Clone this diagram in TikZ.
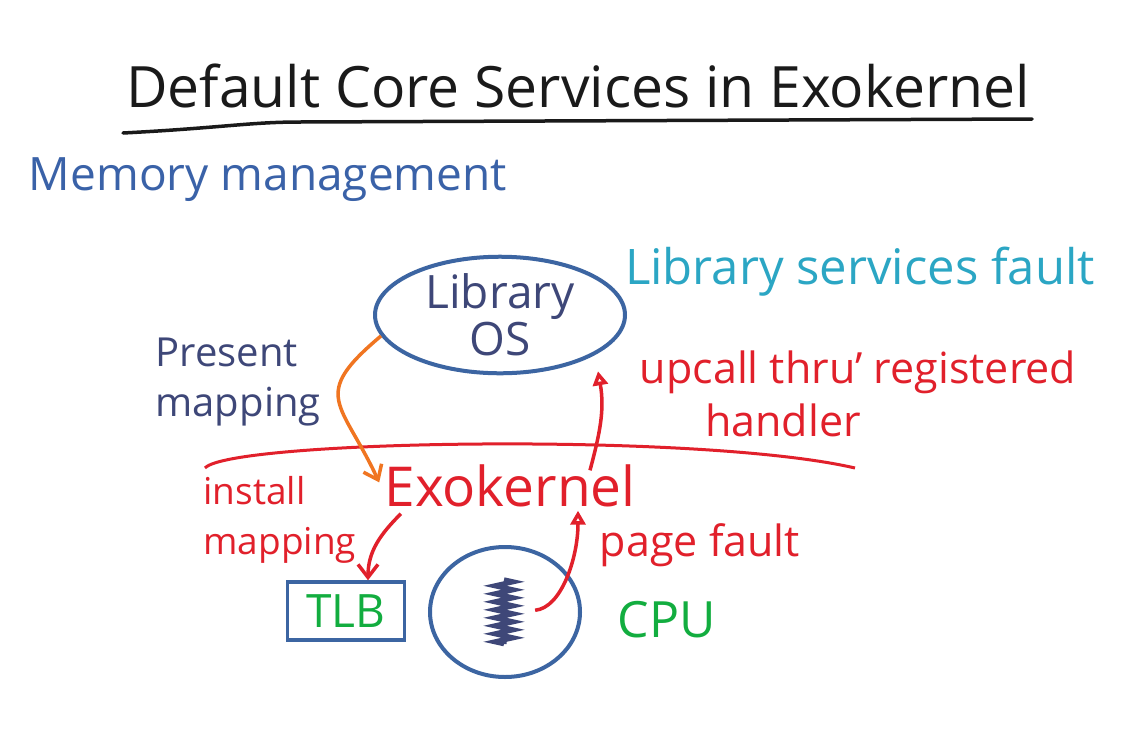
\documentclass[tikz,border=0pt]{standalone}
\usepackage{fontspec}
\setmainfont{Open Sans}
\usetikzlibrary{
  arrows.meta,
  decorations.pathmorphing,
  positioning,
  shapes.geometric
}
\definecolor{ink}{HTML}{1A1A1A}
\definecolor{topicblue}{HTML}{3A62A8}
\definecolor{frame}{HTML}{3C65A2}
\definecolor{navy}{HTML}{3E4778}
\definecolor{teal}{HTML}{2BA6C4}
\definecolor{alarm}{HTML}{E1202B}
\definecolor{amber}{HTML}{F07521}
\definecolor{leaf}{HTML}{12AD3F}
\newcommand{\handfont}[2]{\fontsize{#1}{#2}\selectfont}
\tikzset{
  heading/.style={
    text=ink,
    font=\handfont{57}{60}
  },
  topic/.style={
    text=topicblue,
    font=\handfont{46}{50}
  },
  shell/.style={
    ellipse,
    draw=frame,
    line width=4pt,
    inner sep=0pt
  },
  tlbbox/.style={
    draw=frame,
    line width=3.5pt,
    minimum width=117,
    minimum height=58,
    text=leaf,
    font=\handfont{46}{50}
  },
  navynote/.style={
    text=navy,
    font=\handfont{40}{50},
    align=left
  },
  rednote/.style={
    text=alarm,
    font=\handfont{43}{50},
    align=left
  },
  mapflow/.style={
    -{Straight Barb[length=13pt,width=20pt]},
    draw=amber,
    line width=3.5pt
  },
  kernelflow/.style={
    -{Straight Barb[length=13pt,width=20pt]},
    draw=alarm,
    line width=3.5pt
  },
  upflow/.style={
    -{Triangle[open,length=14pt,width=15pt]},
    draw=alarm,
    line width=3.5pt
  }
}
\begin{document}
\begin{tikzpicture}[x=1pt, y=-1pt]
  \fill[white] (0,0) rectangle (1138,742);
  \useasboundingbox (0,0) rectangle (1138,742);

  % Title and topic.
  \node[heading] (title) at (578,86) {Default Core Services in Exokernel};
  \draw[ink, line width=3.5pt, line cap=round]
    (123,133) .. controls (220,128) and (250,122) .. (300,122) -- (1032,119);
  \node[topic] (memory) at (268,180) {Memory management};

  % Library OS above the line.
  \node[shell, minimum width=250, minimum height=116, text=navy,
    font=\handfont{46}{47}, align=center] (os) at (500,315) {Library\\OS};
  \node[text=teal, font=\handfont{49}{50}] (libnote) at (860,272)
    {Library services fault};
  \node[navynote, anchor=west] (present) at (152,382) {Present\\mapping};
  \node[rednote] (upcall) at (858,372) {upcall thru' registered};
  \node[rednote] (handler) at (783,420) {handler};

  % Protection line.
  \draw[alarm, line width=3pt]
    (205,468) .. controls (230,440) and (700,432) .. (855,468);

  % Exokernel and hardware.
  \node[text=alarm, font=\handfont{55}{60}] (exo) at (510,486) {Exokernel};
  \node[rednote, font=\handfont{37}{50}, anchor=west] (install)
    at (200,520) {install\\mapping};
  \node[tlbbox] (tlb) at (346,611) {TLB};
  \node[shell, minimum width=150, minimum height=130] (cpu) at (505,612) {};
  \node[minimum width=22, minimum height=64, inner sep=0pt] (coil)
    at (504,612) {};
  \draw[navy, line width=5pt,
    decorate, decoration={zigzag, amplitude=9pt, segment length=8pt}]
    (coil.north) -- (coil.south);
  \node[rednote] (pagefault) at (700,545) {page fault};
  \node[text=leaf, font=\handfont{50}{50}] (cpulabel) at (667,620) {CPU};

  \draw[mapflow, shorten >=4pt] (os.190) to[out=220, in=115, looseness=1.6]
    (exo.west);
  \draw[upflow] ([xshift=80pt, yshift=-9pt]exo.north) to[out=75, in=-80]
    ([xshift=98pt, yshift=4pt]os.south);
  \draw[upflow, shorten <=20pt] (coil.east) to[out=5, in=-90]
    ([xshift=68pt]exo.south);
  \draw[kernelflow] ([xshift=20pt, yshift=-3pt]exo.south west)
    to[out=225, in=90] ([xshift=22pt]tlb.north);
\end{tikzpicture}
\end{document}
